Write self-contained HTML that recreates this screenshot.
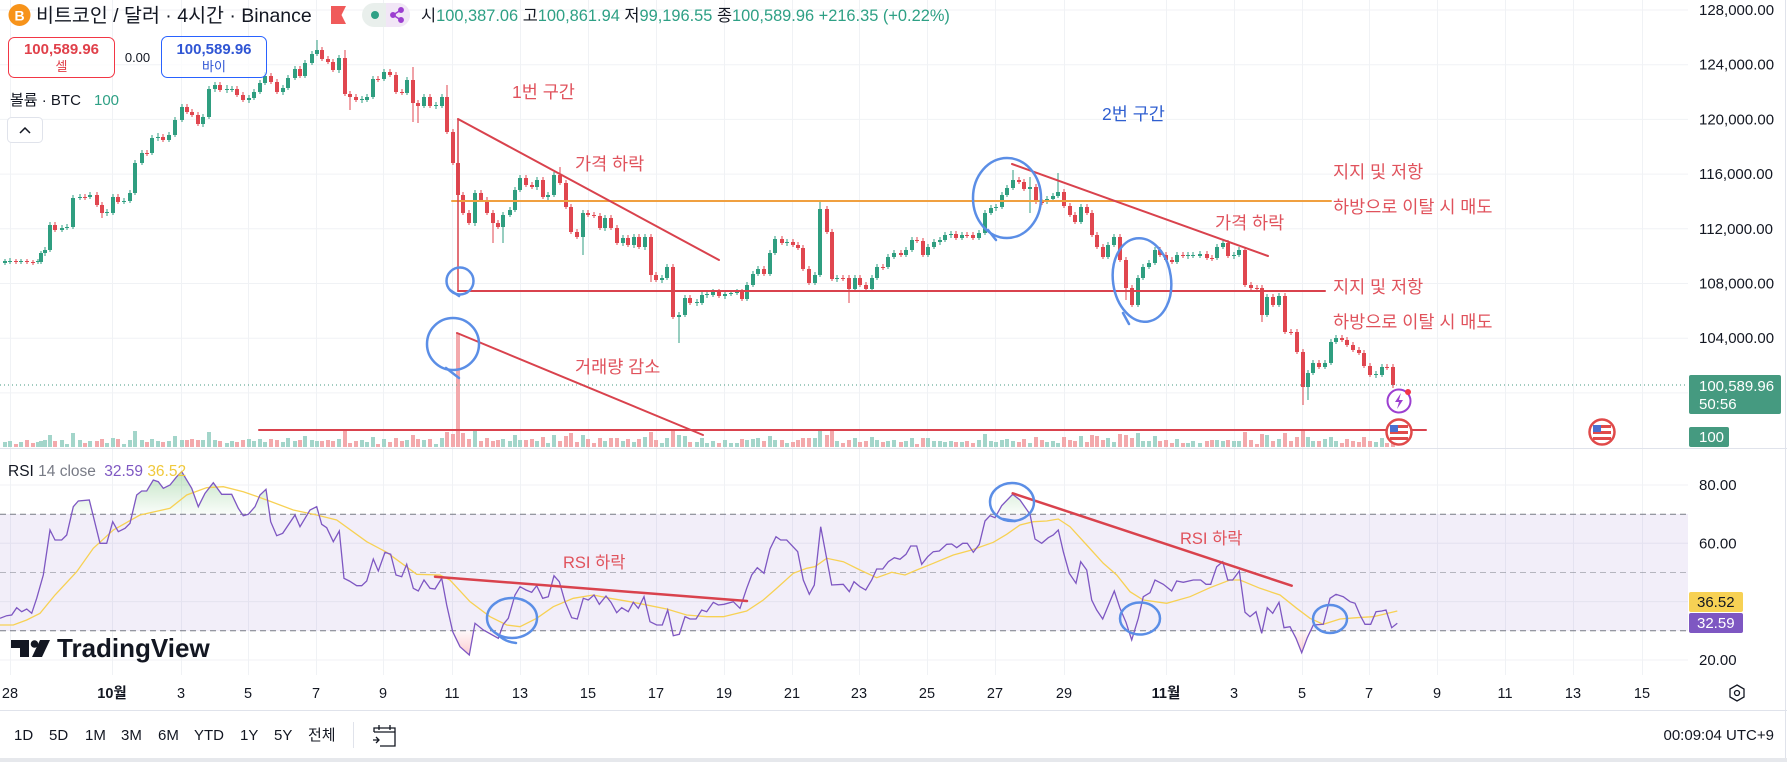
<!DOCTYPE html>
<html><head><meta charset="utf-8"><style>
html,body{margin:0;padding:0;background:#fff;}
svg{display:block;font-family:"Liberation Sans","Noto Sans CJK KR",sans-serif;}
</style></head><body>
<svg width="1787" height="762" viewBox="0 0 1787 762" xmlns="http://www.w3.org/2000/svg">
<defs>
<polyline id="rsi" points="0,618.3 6.7,615.7 11.7,615 16.7,607.7 21.7,611.7 26.7,609 31.7,613.3 36.7,598.3 43.3,575 50,530 55,540 61.7,540 66.7,535 73.3,506.7 78.3,501 89.3,500 100,543.3 106.7,543.3 112.7,521.7 118.3,531.7 125,528.3 130,523.3 136.7,495 141.7,491 146.7,491 153.3,480 158.3,481.7 163.3,488.3 170,485 176.7,476.7 181.7,471.7 191.7,488.3 198.3,506.7 205,493.3 213.3,482.7 221.7,494.3 231.7,494.3 238.3,508.3 243.3,515.7 248.3,514.3 255,506.7 260,495 266,489.3 270.7,521.7 276.7,535.7 282.7,533.3 295,515 300,526.7 310,510 316.7,506.7 321.7,524.3 326.7,527.7 333.3,541.7 339.3,531 344,578.3 349.3,581 356.7,585.7 361.7,585.7 366.7,581 373.3,559 378.3,571 385,552.3 390.7,554.3 396,575 401.7,576.7 406.7,564.3 413.3,588.3 418.3,591 424,580 430,588.3 435,589 441.7,578.3 446.7,605 452.7,631.7 460,646.7 469.3,655 475,623.3 483.3,630 498.3,638.3 503.3,624.3 508.3,618.3 515,595 520,586.7 526,590 531.7,592.3 536.7,585.7 542.7,598.3 548.3,596.7 554,575.7 559.3,581.7 565,601.7 571.7,617.7 577.3,619 583.3,598.3 588.3,600 594,595 599.3,604.3 606,596 611,602.3 616.7,612.7 621.7,607.7 628.3,611.7 633.3,602.3 638.3,608.3 644,596.7 650,621.7 656.7,625 662.3,625 667.7,610 673.3,635.7 679.3,634.3 685,616.7 690,619 696,619 701.7,610 706.7,611.7 713.3,602.3 718.3,605 724,604.3 733.3,601.7 740,608.3 746.7,588.3 751.7,575 757.3,567.7 764,573.3 770,549 776,536.7 780.7,540 786.7,540 797.7,551.7 803.3,580 809.3,594.3 814.3,585 820.7,526.7 826,555 831.7,585 843.3,584.3 849.3,591.7 854,581.7 860,586.7 865.7,590 871.7,580 876.7,569 882.7,569 888.3,561.7 894.3,557.7 900,559.3 906,554.3 910.7,546 916.7,546 921.7,564.3 927.7,556.7 933.3,551.7 939.3,551 946.7,544.3 951.7,544 956.7,547.7 962.7,543.3 967.3,543.3 973.3,552.3 979.3,544.3 985,521 990,515.7 995,517.7 1001.7,505.7 1012.7,494.3 1020,500 1030,514.3 1035,539 1041.7,543.3 1048.3,537.7 1053.3,535 1058.3,530 1063.3,551.7 1069.3,573.3 1076,583.3 1080.7,561.7 1086.7,570 1091.7,600 1096.7,610 1102.7,619 1114.3,591 1120,608.3 1126,622.3 1131.7,640 1138.3,618.3 1143.3,596.7 1150,592.7 1155,580 1163.3,584.3 1171.7,591 1176.7,581 1183.3,582.3 1193.3,580 1200.7,580 1206,584.3 1210.7,584.3 1216.7,566.7 1222.7,561.7 1227.7,580 1232.7,580 1239.3,571 1245,612.3 1250,616.7 1256,611.7 1261.7,633.3 1267.3,607.7 1272.7,613.3 1279,602.3 1284,627.7 1290,626.7 1296,638.3 1301.7,652.7 1307.3,637.7 1313.3,625 1323.3,624.3 1330,598.3 1336,594.3 1343.3,596.7 1350,601.7 1355,603.3 1360,615 1365,624.3 1370.7,624.3 1376,611.7 1381.7,611 1386,610 1391.7,627.7 1397.3,623.3"/>
<clipPath id="above"><rect x="0" y="449" width="1688" height="65"/></clipPath>
<clipPath id="below"><rect x="0" y="631" width="1688" height="44"/></clipPath>
<linearGradient id="gg" x1="0" y1="470" x2="0" y2="514" gradientUnits="userSpaceOnUse"><stop offset="0" stop-color="#4caf50" stop-opacity="0.35"/><stop offset="1" stop-color="#4caf50" stop-opacity="0.03"/></linearGradient>
<linearGradient id="rg" x1="0" y1="631" x2="0" y2="660" gradientUnits="userSpaceOnUse"><stop offset="0" stop-color="#f23645" stop-opacity="0.03"/><stop offset="1" stop-color="#f23645" stop-opacity="0.3"/></linearGradient>
</defs>

<rect width="1787" height="762" fill="#fff"/>

<!-- grids -->
<g stroke="#f0f2f5" stroke-width="1">
<line x1="0" x2="1688" y1="10" y2="10"/><line x1="0" x2="1688" y1="64.7" y2="64.7"/><line x1="0" x2="1688" y1="119.4" y2="119.4"/><line x1="0" x2="1688" y1="174.1" y2="174.1"/><line x1="0" x2="1688" y1="228.8" y2="228.8"/><line x1="0" x2="1688" y1="283.5" y2="283.5"/><line x1="0" x2="1688" y1="338.2" y2="338.2"/><line x1="0" x2="1688" y1="392.9" y2="392.9"/>
<line x1="0" x2="1688" y1="485" y2="485"/><line x1="0" x2="1688" y1="543.3" y2="543.3"/><line x1="0" x2="1688" y1="601.6" y2="601.6"/><line x1="0" x2="1688" y1="660" y2="660"/>
<path d="M10.5 0V675M112.5 0V675M181.5 0V675M248.5 0V675M316.5 0V675M383.5 0V675M452.5 0V675M520.5 0V675M588.5 0V675M656.5 0V675M724.5 0V675M792.5 0V675M859.5 0V675M927.5 0V675M995.5 0V675M1064.5 0V675M1166.5 0V675M1234.5 0V675M1302.5 0V675M1369.5 0V675M1437.5 0V675M1505.5 0V675M1573.5 0V675M1642.5 0V675"/>
</g>

<!-- RSI band -->
<rect x="0" y="514" width="1688" height="117" fill="#7e57c2" fill-opacity="0.1"/>
<line x1="0" x2="1688" y1="514.2" y2="514.2" stroke="#787b86" stroke-dasharray="6 4" stroke-width="1"/>
<line x1="0" x2="1688" y1="572.5" y2="572.5" stroke="#787b86" stroke-opacity="0.5" stroke-dasharray="6 4" stroke-width="1"/>
<line x1="0" x2="1688" y1="630.8" y2="630.8" stroke="#787b86" stroke-dasharray="6 4" stroke-width="1"/>

<!-- separators -->
<line x1="0" x2="1787" y1="448.5" y2="448.5" stroke="#e0e3eb"/>
<line x1="0" x2="1787" y1="710.5" y2="710.5" stroke="#e0e3eb"/>
<line x1="1785.5" x2="1785.5" y1="0" y2="758" stroke="#e0e3eb"/>
<rect x="0" y="758" width="1787" height="4" fill="#e6e8ec"/>

<!-- volume -->
<path fill="none" stroke="#a3d5ca" stroke-width="4" d="M5 447v-5M10 447v-6M21 447v-5M38 447v-5M41 447v-6M45 447v-7M50 447v-12M62 447v-7M67 447v-3M73 447v-14M80 447v-7M90 447v-6M107 447v-4M113 447v-9M124 447v-3M130 447v-7M135 447v-16M142 447v-7M152 447v-8M158 447v-6M169 447v-6M175 447v-11M182 447v-7M203 447v-7M209 447v-15M215 447v-7M227 447v-4M232 447v-6M249 447v-8M254 447v-6M260 447v-8M265 447v-5M283 447v-5M288 447v-9M295 447v-6M305 447v-11M312 447v-7M317 447v-6M339 447v-8M362 447v-7M367 447v-5M373 447v-10M384 447v-8M407 447v-7M424 447v-7M436 447v-3M442 447v-9M475 447v-16M503 447v-8M510 447v-6M515 447v-12M520 447v-7M537 447v-6M548 447v-4M554 447v-12M583 447v-12M605 447v-6M623 447v-6M634 447v-5M645 447v-10M662 447v-4M667 447v-9M679 447v-12M685 447v-11M697 447v-5M702 447v-9M707 447v-4M713 447v-6M725 447v-7M731 447v-4M737 447v-4M747 447v-7M753 447v-8M758 447v-9M770 447v-11M775 447v-7M787 447v-4M815 447v-9M820 447v-18M837 447v-6M855 447v-9M872 447v-10M877 447v-7M888 447v-6M894 447v-7M906 447v-6M912 447v-9M928 447v-9M934 447v-6M940 447v-6M945 447v-5M951 447v-6M962 447v-5M979 447v-7M985 447v-13M991 447v-6M996 447v-5M1002 447v-7M1007 447v-8M1013 447v-6M1030 447v-4M1047 447v-5M1053 447v-6M1058 447v-4M1081 447v-11M1108 447v-9M1114 447v-5M1138 447v-14M1143 447v-6M1149 447v-6M1155 447v-11M1177 447v-8M1188 447v-4M1193 447v-6M1200 447v-4M1217 447v-7M1223 447v-6M1234 447v-6M1239 447v-6M1267 447v-12M1279 447v-8M1308 447v-10M1313 447v-6M1325 447v-8M1331 447v-10M1336 447v-6M1376 447v-5M1382 447v-9"/>
<path fill="none" stroke="#f3a9ac" stroke-width="4" d="M16 447v-3M27 447v-7M33 447v-4M55 447v-6M85 447v-4M97 447v-6M102 447v-8M118 447v-8M147 447v-5M163 447v-5M187 447v-7M192 447v-8M198 447v-7M220 447v-6M237 447v-5M243 447v-7M271 447v-8M277 447v-7M300 447v-7M322 447v-6M328 447v-7M333 447v-6M345 447v-17M350 447v-4M356 447v-6M378 447v-3M390 447v-5M396 447v-9M402 447v-6M413 447v-12M418 447v-8M430 447v-8M447 447v-15M453 447v-13M458 447v-114M463 447v-14M469 447v-8M481 447v-6M487 447v-9M493 447v-6M498 447v-7M526 447v-7M532 447v-8M543 447v-10M560 447v-6M566 447v-11M571 447v-14M577 447v-5M588 447v-8M594 447v-4M600 447v-9M611 447v-9M617 447v-9M628 447v-8M639 447v-8M651 447v-15M656 447v-7M673 447v-18M690 447v-5M719 447v-4M742 447v-8M764 447v-6M782 447v-7M793 447v-5M798 447v-7M803 447v-9M809 447v-9M827 447v-12M832 447v-17M843 447v-4M849 447v-7M860 447v-5M866 447v-6M883 447v-5M901 447v-5M917 447v-3M923 447v-9M956 447v-5M967 447v-6M973 447v-4M1019 447v-5M1024 447v-8M1036 447v-10M1042 447v-7M1064 447v-10M1070 447v-7M1075 447v-6M1087 447v-5M1092 447v-12M1097 447v-11M1103 447v-7M1120 447v-13M1126 447v-12M1132 447v-9M1160 447v-6M1166 447v-7M1172 447v-4M1183 447v-4M1207 447v-6M1212 447v-7M1228 447v-7M1245 447v-15M1251 447v-7M1257 447v-3M1262 447v-13M1273 447v-6M1285 447v-14M1291 447v-6M1297 447v-10M1303 447v-17M1319 447v-6M1342 447v-4M1347 447v-8M1353 447v-6M1359 447v-5M1364 447v-10M1370 447v-6M1387 447v-4M1393 447v-10"/>

<!-- candles: wicks -->
<path fill="none" stroke="#2f9e80" stroke-width="1" d="M5 259V265M10 258V264M21 259V264M38 259V264M41 251V264M45 247V256M50 222V252M62 225V232M67 224V230M73 195V229M80 194V200M90 192V199M107 209V216M113 194V215M124 198V204M130 190V203M135 160V195M142 150V165M152 135V155M158 133V141M169 132V142M175 117V137M182 104V122M203 114V127M209 86V119M215 82V92M227 85V93M232 86V92M249 95V103M254 89V100M260 80V94M265 72V85M283 85V95M288 75V90M295 66V80M305 60V78M312 51V65M317 40V56M339 55V73M362 96V103M367 94V102M373 76V99M384 69V81M407 77V95M424 94V108M436 102V109M442 94V108M475 190V226M503 212V243M510 207V217M515 187V212M520 175V192M537 177V190M548 192V200M554 172V197M583 210V255M605 215V231M623 235V246M634 234V248M645 234V250M662 275V283M667 264V280M679 312V343M685 295V317M697 299V306M702 292V305M707 291V298M713 289V297M725 291V299M731 290V296M737 289V295M747 282V301M753 271V287M758 266V276M770 250V276M775 236V255M787 239V246M815 272V285M820 200V277M837 275V282M855 275V291M872 275V291M877 264V280M888 254V269M894 250V259M906 247V257M912 237V252M928 244V257M934 239V249M940 237V245M945 232V242M951 231V238M962 232V240M979 230V240M985 210V235M991 205V215M996 204V211M1002 192V209M1007 185V197M1013 170V190M1030 177V213M1047 196V204M1053 193V201M1058 173V198M1081 204V224M1108 242V259M1114 234V247M1138 275V307M1143 264V280M1149 260V269M1155 247V265M1177 252V264M1188 252V259M1193 252V258M1200 251V258M1217 244V260M1223 240V249M1234 252V259M1239 247V257M1267 294V317M1279 293V307M1308 370V400M1313 360V375M1325 360V369M1331 339V365M1336 335V344M1376 371V378M1382 364V377"/>
<path fill="none" stroke="#e0464f" stroke-width="1" d="M16 259V264M27 259V264M33 260V265M55 222V232M85 194V200M97 192V207M102 202V218M118 194V204M147 150V156M163 134V142M187 104V114M192 109V117M198 112V126M220 82V92M237 86V97M243 92V102M271 73V84M277 79V94M300 66V78M322 47V61M328 56V64M333 59V72M345 50V96M350 91V110M356 94V102M378 76V82M390 69V77M396 72V94M402 89V95M413 67V122M418 100V123M430 94V108M447 85V134M453 129V165M458 160V291M463 192V215M469 210V225M481 190V202M487 197V215M493 210V243M498 220V229M526 175V187M532 182V189M543 177V199M560 167V185M566 180V209M571 204V234M577 229V239M588 210V217M594 212V218M600 213V230M611 215V230M617 225V245M628 235V247M639 234V249M651 234V282M656 272V282M673 264V319M690 295V305M719 289V298M742 289V301M764 266V276M782 236V245M793 239V247M798 242V250M803 245V271M809 266V285M827 206V234M832 229V281M843 275V281M849 275V303M860 275V287M866 282V291M883 264V270M901 250V257M917 237V243M923 238V257M956 231V240M967 232V238M973 232V240M1019 177V184M1024 179V191M1036 184V204M1042 199V205M1064 189V208M1070 203V217M1075 212V224M1087 204V215M1092 210V237M1097 232V249M1103 244V259M1120 234V262M1126 257V300M1132 285V307M1160 247V257M1166 252V262M1172 257V264M1183 252V258M1207 251V260M1212 255V261M1228 240V258M1245 247V287M1251 282V290M1257 285V291M1262 285V322M1273 294V307M1285 293V334M1291 329V335M1297 329V354M1303 349V405M1319 360V369M1342 335V342M1347 337V347M1353 342V352M1359 347V355M1364 350V368M1370 363V377M1387 364V370M1393 364V388"/>
<!-- candles: bodies -->
<path fill="none" stroke="#2f9e80" stroke-width="4" d="M5 261V263M10 261V262M21 261V262M38 261V262M41 253V262M45 250V253M50 225V250M62 228V230M67 227V228M73 198V227M80 197V198M90 195V197M107 212V213M113 197V213M124 201V202M130 193V201M135 163V193M142 153V163M152 138V153M158 137V138M169 135V140M175 120V135M182 107V120M203 117V124M209 89V117M215 85V89M227 89V90M232 89V90M249 98V100M254 92V98M260 83V92M265 76V83M283 88V92M288 78V88M295 69V78M305 63V76M312 54V63M317 50V54M339 58V70M362 99V100M367 97V100M373 79V97M384 72V79M407 80V93M424 97V106M436 105V106M442 97V106M475 193V223M503 215V227M510 210V215M515 190V210M520 178V190M537 180V187M548 195V197M554 175V195M583 213V237M605 218V228M623 238V243M634 237V245M645 237V247M662 278V280M667 267V278M679 315V317M685 298V315M697 302V303M702 295V303M707 294V295M713 292V295M725 294V296M731 293V294M737 292V293M747 285V299M753 274V285M758 269V274M770 253V274M775 239V253M787 242V243M815 275V283M820 209V275M837 278V279M855 278V289M872 278V289M877 267V278M888 257V267M894 253V257M906 250V255M912 240V250M928 247V255M934 242V247M940 240V242M945 235V240M951 234V235M962 235V238M979 233V238M985 213V233M991 208V213M996 207V208M1002 195V207M1007 188V195M1013 180V188M1030 187V189M1047 199V202M1053 196V199M1058 192V196M1081 207V222M1108 245V257M1114 237V245M1138 278V305M1143 267V278M1149 263V267M1155 250V263M1177 255V262M1188 255V256M1193 255V256M1200 254V256M1217 247V258M1223 243V247M1234 255V256M1239 250V255M1267 297V315M1279 296V305M1308 373V387M1313 363V373M1325 363V367M1331 342V363M1336 338V342M1376 374V375M1382 367V375"/>
<path fill="none" stroke="#e0464f" stroke-width="4" d="M16 261V262M27 261V262M33 262V263M55 225V230M85 197V198M97 195V205M102 205V213M118 197V202M147 153V154M163 137V140M187 107V112M192 112V115M198 115V124M220 85V90M237 89V95M243 95V100M271 76V82M277 82V92M300 69V76M322 50V59M328 59V62M333 62V70M345 58V94M350 94V97M356 97V100M378 79V80M390 72V75M396 75V92M402 92V93M413 80V103M418 103V106M430 97V106M447 97V132M453 132V163M458 163V195M463 195V213M469 213V223M481 193V200M487 200V213M493 213V223M498 223V227M526 178V185M532 185V187M543 180V197M560 175V183M566 183V207M571 207V232M577 232V237M588 213V215M594 215V216M600 216V228M611 218V228M617 228V243M628 238V245M639 237V247M651 237V275M656 275V280M673 267V317M690 298V303M719 292V296M742 292V299M764 269V274M782 239V243M793 242V245M798 245V248M803 248V269M809 269V283M827 209V232M832 232V279M843 278V279M849 278V289M860 278V285M866 285V289M883 267V268M901 253V255M917 240V241M923 241V255M956 234V238M967 235V236M973 235V238M1019 180V182M1024 182V189M1036 187V202M1042 202V203M1064 192V206M1070 206V215M1075 215V222M1087 207V213M1092 213V235M1097 235V247M1103 247V257M1120 237V260M1126 260V288M1132 288V305M1160 250V255M1166 255V260M1172 260V262M1183 255V256M1207 254V258M1212 258V259M1228 243V256M1245 250V285M1251 285V288M1257 288V289M1262 288V315M1273 297V305M1285 296V332M1291 332V333M1297 332V352M1303 352V387M1319 363V367M1342 338V340M1347 340V345M1353 345V350M1359 350V353M1364 353V366M1370 366V375M1387 367V368M1393 367V385"/>

<!-- current price dotted line -->
<line x1="0" x2="1688" y1="385" y2="385" stroke="#459a80" stroke-dasharray="1 3" stroke-width="1"/>

<!-- RSI fills and lines -->
<use href="#rsi" fill="url(#gg)" stroke="none" clip-path="url(#above)"/>
<use href="#rsi" fill="url(#rg)" stroke="none" clip-path="url(#below)"/>
<polyline fill="none" stroke="#f7d154" stroke-width="1.3" points="0,625 13.3,625 26.7,620 40,613.3 55,595 76.7,571.7 93.3,548.3 113.3,530 140,515 170,508.3 186.7,495 206.7,487.7 223.3,486.7 243.3,491.7 266.7,500 293.3,510 316.7,515 336.7,520 366.7,541.7 386.7,552.3 416.7,574.3 440,575 450,580 470,601.7 490,616.7 506.7,625 520,626.7 536.7,618.3 553.3,606.7 573.3,598.3 593.3,595 610,598.3 630,601.7 643.3,604.3 666.7,609 686.7,615 706.7,616.7 723.3,616.7 746.7,611 763.3,600 776.7,588.3 793.3,573.3 806.7,568.3 815,566.7 826.7,558.3 843.3,561.7 860,570 876.7,577.7 891.7,572.3 905,575 916.7,570 933.3,563.3 953.3,555 971.7,550 993.3,542.3 1006.7,534.3 1020,525 1033.3,521.7 1046.7,521 1058.3,519 1070,526.7 1086.7,545 1103.3,563.3 1116.7,575 1130,591.7 1143.3,600 1166.7,603.3 1190,596.7 1210,587.7 1230,580 1240,580 1260,588.3 1280,595 1296.7,608.3 1310,618.3 1323.3,624.3 1340,619 1356.7,617.7 1373.3,616.7 1397.3,611"/>
<use href="#rsi" fill="none" stroke="#7e57c2" stroke-width="1.3"/>

<!-- annotation lines -->
<g stroke="#d9424d" stroke-width="2" fill="none" stroke-linecap="round">
<line x1="452" y1="201" x2="1331" y2="201" stroke="#f0a040"/>
<line x1="458" y1="291" x2="1325" y2="291"/>
<line x1="458" y1="119" x2="458" y2="291" stroke-width="1.5"/>
<line x1="458" y1="119" x2="719" y2="260"/>
<line x1="457" y1="333" x2="703" y2="435"/>
<line x1="259" y1="430" x2="1426" y2="430"/>
<line x1="1012" y1="164" x2="1268" y2="256"/>
<line x1="435" y1="576.7" x2="747" y2="601" stroke-width="2.5"/>
<line x1="1012.7" y1="493.3" x2="1291.7" y2="585.7" stroke-width="2.5"/>
</g>

<!-- blue hand circles -->
<g stroke="#5b8ee6" stroke-width="2.5" fill="none" stroke-linecap="round">
<circle cx="460" cy="281" r="13.5"/><path d="M450 290 L459 296"/>
<circle cx="453" cy="344" r="26"/><path d="M446 368 L459 378"/>
<ellipse cx="1007" cy="198" rx="34" ry="40"/><path d="M988 230 L996 240"/>
<ellipse cx="1142" cy="280" rx="29" ry="42" transform="rotate(-8 1142 280)"/><path d="M1123 313 L1129 324"/>
<ellipse cx="512" cy="618" rx="25" ry="20"/><path d="M497 634 Q505 642 516 643"/>
<ellipse cx="1012" cy="502" rx="22" ry="19"/><path d="M1003 519 L1015 521"/>
<ellipse cx="1140" cy="618.5" rx="20" ry="16"/>
<ellipse cx="1330" cy="619" rx="17" ry="14"/>
</g>

<!-- annotation texts -->
<g font-size="17.5" fill="#e0525c">
<text x="512" y="98">1번 구간</text>
<text x="575" y="170">가격 하락</text>
<text x="575" y="373">거래량 감소</text>
<text x="1333" y="178">지지 및 저항</text>
<text x="1333" y="213">하방으로 이탈 시 매도</text>
<text x="1215" y="229">가격 하락</text>
<text x="1333" y="293">지지 및 저항</text>
<text x="1333" y="328">하방으로 이탈 시 매도</text>
<text x="563" y="568" font-size="16.5">RSI 하락</text>
<text x="1180" y="544" font-size="16.5">RSI 하락</text>
</g>
<text x="1102" y="120" font-size="17.5" fill="#2f5fd0">2번 구간</text>

<!-- event icons -->
<circle cx="1399" cy="401" r="11.5" fill="#fff" stroke="#9c3fd0" stroke-width="2"/>
<path d="M1401 393 L1395 402 L1399 402 L1397 409 L1403 400 L1399 400 Z" fill="#9c3fd0"/>
<circle cx="1408" cy="392" r="3" fill="#f23645"/>
<circle cx="1399" cy="432" r="12.5" fill="#fff" stroke="#e04a4a" stroke-width="2.5"/>
<rect x="1390" y="425" width="18" height="3" fill="#e04a4a"/><rect x="1390" y="431" width="18" height="3" fill="#e04a4a"/><rect x="1390" y="437" width="18" height="3" fill="#e04a4a"/>
<rect x="1390" y="425" width="8" height="7" fill="#4a6fd0"/>
<circle cx="1602" cy="432" r="12.5" fill="#fff" stroke="#e04a4a" stroke-width="2.5"/>
<rect x="1593" y="425" width="18" height="3" fill="#e04a4a"/><rect x="1593" y="431" width="18" height="3" fill="#e04a4a"/><rect x="1593" y="437" width="18" height="3" fill="#e04a4a"/>
<rect x="1593" y="425" width="8" height="7" fill="#4a6fd0"/>

<!-- header -->
<circle cx="19.5" cy="15" r="11" fill="#f7931a"/>
<text x="19.5" y="20.5" font-size="14" font-weight="bold" fill="#fff" text-anchor="middle">B</text>
<text x="36" y="22" font-size="19.5" fill="#131722">비트코인 / 달러 · 4시간 · Binance</text>
<path d="M331 6H346L341.5 15L346 24H331Z" fill="#f05a5a"/>
<rect x="362" y="3" width="48" height="24" rx="12" fill="#e9efec"/>
<path d="M386 3 H398 A12 12 0 0 1 398 27 H386 Z" fill="#f1e6f6"/>
<circle cx="375" cy="15" r="4" fill="#2ea085"/>
<g fill="#9c3fd0" stroke="#9c3fd0" stroke-width="1.5"><circle cx="393" cy="15" r="2.2"/><circle cx="401" cy="10" r="2.2"/><circle cx="401" cy="20" r="2.2"/><path d="M393 15 L401 10 M393 15 L401 20" fill="none"/></g>
<text x="421" y="21" font-size="16.4" fill="#2ea085"><tspan fill="#131722">시</tspan>100,387.06 <tspan fill="#131722">고</tspan>100,861.94 <tspan fill="#131722">저</tspan>99,196.55 <tspan fill="#131722">종</tspan>100,589.96 +216.35 (+0.22%)</text>

<rect x="8.5" y="37.5" width="106" height="40" rx="6" fill="#fff" fill-opacity="0.8" stroke="#f23645" stroke-width="1"/>
<text x="61.5" y="54" font-size="15" font-weight="bold" fill="#e0404a" text-anchor="middle">100,589.96</text>
<text x="61.5" y="71" font-size="13" fill="#e0404a" text-anchor="middle">셀</text>
<text x="137.5" y="62" font-size="13" fill="#131722" text-anchor="middle">0.00</text>
<rect x="161.5" y="36.5" width="105" height="41" rx="6" fill="#fff" fill-opacity="0.75" stroke="#2962ff" stroke-width="1"/>
<text x="214" y="54" font-size="15" font-weight="bold" fill="#2f55d4" text-anchor="middle">100,589.96</text>
<text x="214" y="71" font-size="13" fill="#2f55d4" text-anchor="middle">바이</text>
<text x="10" y="105" font-size="15" fill="#131722">볼륨 · BTC <tspan x="94" fill="#2ea085">100</tspan></text>
<rect x="7.5" y="117.5" width="35" height="25" rx="4" fill="#fff" stroke="#e0e3eb"/>
<path d="M20 133 L25 128 L30 133" fill="none" stroke="#131722" stroke-width="1.5"/>

<!-- RSI title -->
<text x="8" y="476" font-size="15.5" fill="#787b86"><tspan fill="#131722">RSI</tspan> 14 close <tspan fill="#7e57c2" dx="4">32.59</tspan> <tspan fill="#f0c93c">36.52</tspan></text>

<!-- TradingView logo -->
<path d="M11 640 H29 V657 H20 V648 H11 Z" fill="#131722"/>
<circle cx="34.5" cy="644" r="3.8" fill="#131722"/>
<path d="M40 640 H50 L42 657 H32 Z" fill="#131722"/>
<text x="57" y="657" font-size="26" font-weight="bold" fill="#131722">TradingView</text>

<!-- price axis -->
<g font-size="15" fill="#131722">
<text x="1699" y="15">128,000.00</text>
<text x="1699" y="69.7">124,000.00</text>
<text x="1699" y="124.4">120,000.00</text>
<text x="1699" y="179.1">116,000.00</text>
<text x="1699" y="233.8">112,000.00</text>
<text x="1699" y="288.5">108,000.00</text>
<text x="1699" y="343.2">104,000.00</text>
<text x="1699" y="490">80.00</text>
<text x="1699" y="548.3">60.00</text>
<text x="1699" y="665">20.00</text>
</g>
<rect x="1689" y="375" width="92" height="39" rx="2" fill="#459a80"/>
<text x="1699" y="391" font-size="15" fill="#fff">100,589.96</text>
<text x="1699" y="409" font-size="15" fill="#fff">50:56</text>
<rect x="1689" y="427" width="40" height="20" rx="2" fill="#459a80"/>
<text x="1699" y="442" font-size="15" fill="#fff">100</text>
<rect x="1689" y="592" width="54" height="20" rx="2" fill="#f7d154"/>
<text x="1697" y="607" font-size="15" fill="#131722">36.52</text>
<rect x="1689" y="613" width="54" height="20" rx="2" fill="#7e57c2"/>
<text x="1697" y="628" font-size="15" fill="#fff">32.59</text>

<!-- time axis -->
<g font-size="14.5" fill="#131722" text-anchor="middle">
<text x="10" y="698">28</text><text x="112" y="698" font-weight="bold">10월</text><text x="181" y="698">3</text><text x="248" y="698">5</text><text x="316" y="698">7</text><text x="383" y="698">9</text><text x="452" y="698">11</text><text x="520" y="698">13</text><text x="588" y="698">15</text><text x="656" y="698">17</text><text x="724" y="698">19</text><text x="792" y="698">21</text><text x="859" y="698">23</text><text x="927" y="698">25</text><text x="995" y="698">27</text><text x="1064" y="698">29</text><text x="1166" y="698" font-weight="bold">11월</text><text x="1234" y="698">3</text><text x="1302" y="698">5</text><text x="1369" y="698">7</text><text x="1437" y="698">9</text><text x="1505" y="698">11</text><text x="1573" y="698">13</text><text x="1642" y="698">15</text>
</g>
<path d="M1737 685 L1744 689 L1744 697 L1737 701 L1730 697 L1730 689 Z" fill="none" stroke="#131722" stroke-width="1.3"/>
<circle cx="1737" cy="693" r="2.5" fill="none" stroke="#131722" stroke-width="1.3"/>

<!-- toolbar -->
<g font-size="15" fill="#131722">
<text x="14" y="740">1D</text><text x="49" y="740">5D</text><text x="85" y="740">1M</text><text x="121" y="740">3M</text><text x="158" y="740">6M</text><text x="194" y="740">YTD</text><text x="240" y="740">1Y</text><text x="274" y="740">5Y</text><text x="308" y="740">전체</text>
<text x="1774" y="740" text-anchor="end">00:09:04 UTC+9</text>
</g>
<line x1="353.5" x2="353.5" y1="722" y2="748" stroke="#e0e3eb"/>
<g fill="none" stroke="#131722" stroke-width="1.3">
<path d="M374 732 V728 H395 V746 H380"/><path d="M374 732 H395"/><path d="M379 725 V730 M390 725 V730"/><path d="M373 740 H379 M376 737 L379 740 L376 743"/>
</g>
</svg>
</body></html>
